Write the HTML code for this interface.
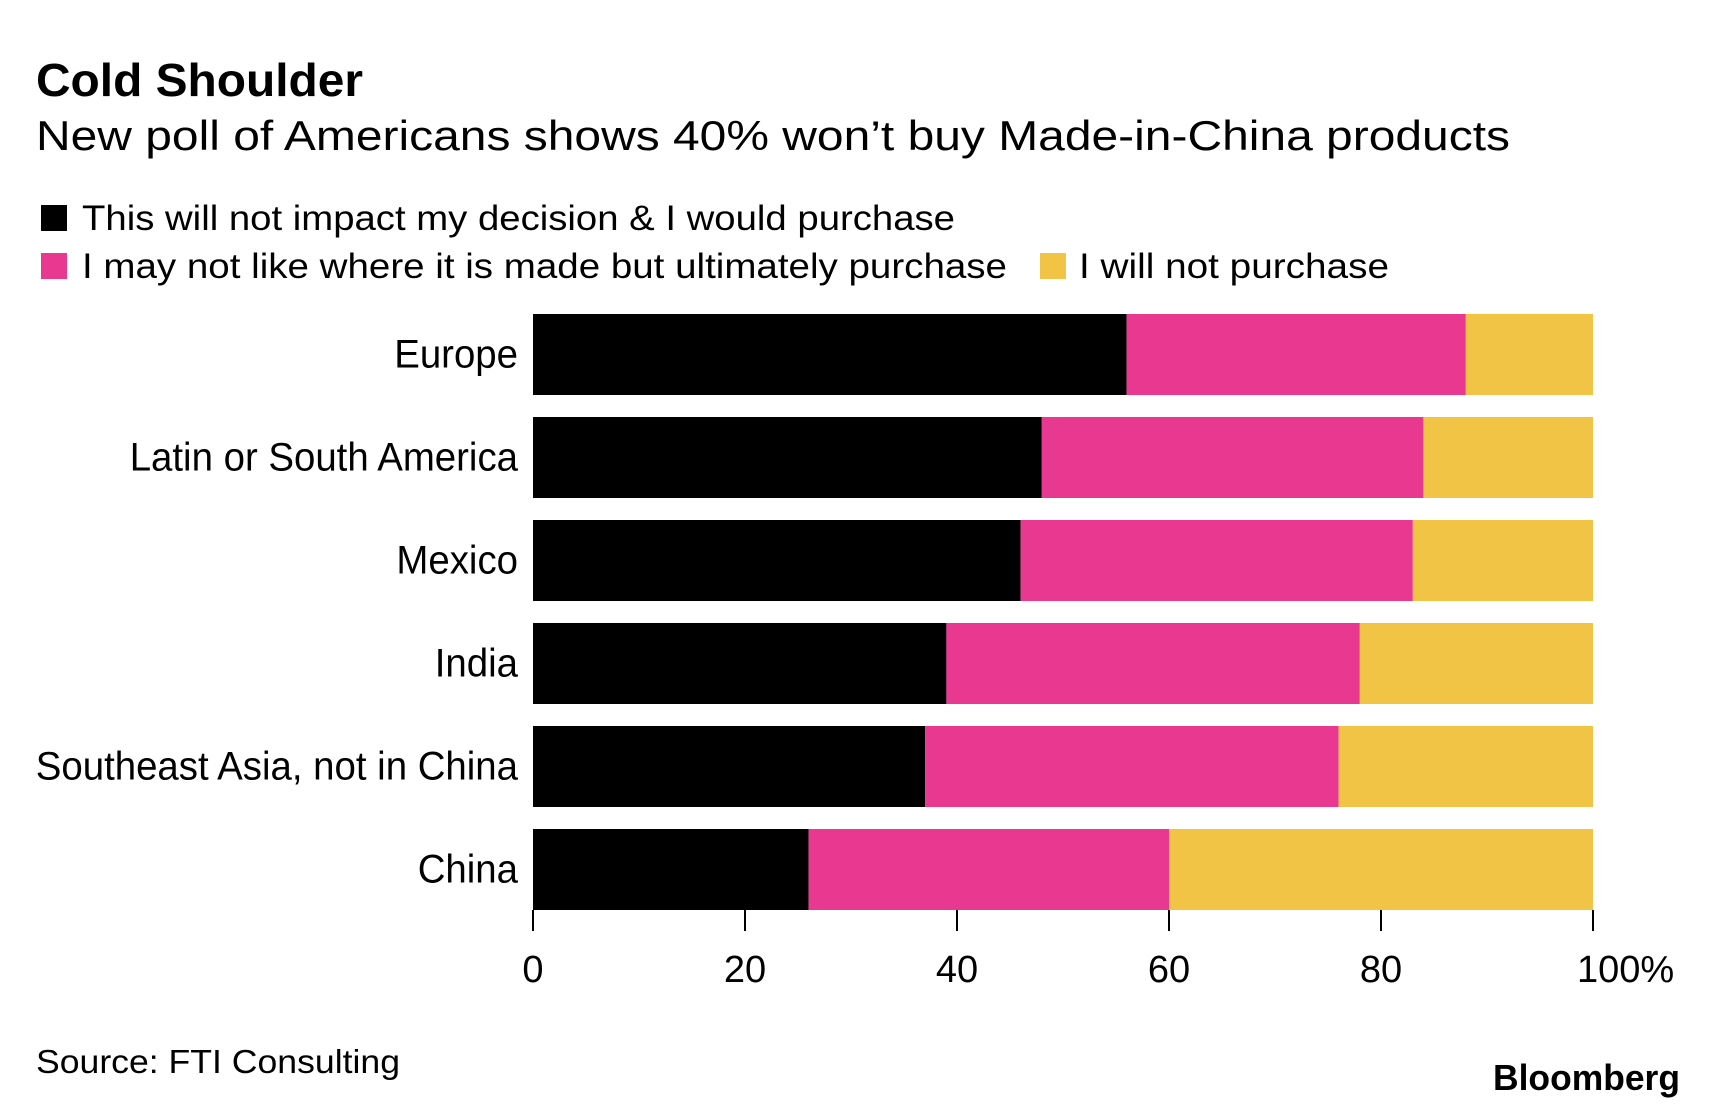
<!DOCTYPE html>
<html><head><meta charset="utf-8"><style>
body{margin:0;background:#fff;}
svg{display:block;font-family:"Liberation Sans",Arial,sans-serif;}
</style></head><body>
<svg id="chart" width="1716" height="1108" viewBox="0 0 1716 1108" xmlns="http://www.w3.org/2000/svg">
<rect width="1716" height="1108" fill="#fff"/>
<text x="36" y="96" font-size="46" font-weight="bold" textLength="327" lengthAdjust="spacingAndGlyphs">Cold Shoulder</text>
<text x="36" y="150" font-size="42" textLength="1474" lengthAdjust="spacingAndGlyphs">New poll of Americans shows 40% won’t buy Made-in-China products</text>
<g>
<rect x="41" y="205" width="26" height="26" fill="#000"/>
<text x="82" y="230" font-size="35" textLength="873" lengthAdjust="spacingAndGlyphs">This will not impact my decision &amp; I would purchase</text>
<rect x="41" y="253" width="26" height="26" fill="#e8388f"/>
<text x="82" y="278" font-size="35" textLength="925" lengthAdjust="spacingAndGlyphs">I may not like where it is made but ultimately purchase</text>
<rect x="1040" y="253" width="26" height="26" fill="#f2c446"/>
<text x="1079" y="278" font-size="35" textLength="310" lengthAdjust="spacingAndGlyphs">I will not purchase</text>
</g>
<g id="bars"></g>
<g id="axis"></g>
<text x="36" y="1073" font-size="33" textLength="364" lengthAdjust="spacingAndGlyphs">Source: FTI Consulting</text>
<text x="1680" y="1090" font-size="36" font-weight="bold" text-anchor="end" textLength="187" lengthAdjust="spacingAndGlyphs">Bloomberg</text>
</svg>
<script>
const categories = ["Europe","Latin or South America","Mexico","India","Southeast Asia, not in China","China"];
const wouldPurchase = [56,48,46,39,37,26];
const mayNotLike = [32,36,37,39,39,34];
const willNot = [12,16,17,22,24,40];
const ticks = [0,20,40,60,80,100];
const tickLabels = ["0","20","40","60","80","100%"];
const NS="http://www.w3.org/2000/svg";
const X0=533,X1=1593,TOP=314,PITCH=103,BH=81;
const x=v=>X0+(X1-X0)*v/100;
const y=i=>TOP+i*PITCH;
const bars=document.getElementById('bars'),axis=document.getElementById('axis');
function mk(tag,attrs,parent){const e=document.createElementNS(NS,tag);for(const k in attrs)e.setAttribute(k,attrs[k]);parent.appendChild(e);return e;}
const series=[[wouldPurchase,"#000","would-purchase"],[mayNotLike,"#e8388f","may-not-like"],[willNot,"#f2c446","will-not"]];
categories.forEach((c,i)=>{
  let acc=0;
  series.forEach(([arr,col,nm])=>{
    const r=mk('rect',{x:x(acc),y:y(i),width:x(acc+arr[i])-x(acc),height:BH,fill:col},bars);
    
    
    acc+=arr[i];
  });
  const t=mk('text',{x:518,y:y(i)+BH/2+13,'font-size':40,'text-anchor':'end',transform:'translate(518 0) scale(0.96 1) translate(-518 0)'},bars);
  t.textContent=c;
  
  
});
const base=y(categories.length-1)+BH;
ticks.forEach((v,i)=>{
  const l=mk('line',{x1:x(v),x2:x(v),y1:base,y2:base+21,stroke:'#000','stroke-width':2},axis);
  
  
  const t=mk('text',{x:i===ticks.length-1?x(v)-16:x(v),y:base+72,'font-size':38,'text-anchor':i===ticks.length-1?'start':'middle'},axis);
  t.textContent=tickLabels[i];
  
  
});
</script>
</body></html>
